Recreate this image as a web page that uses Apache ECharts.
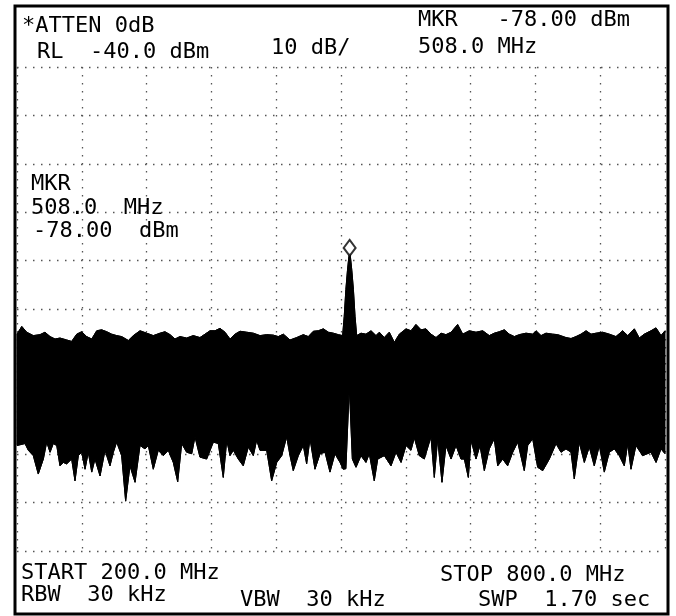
<!DOCTYPE html>
<html>
<head>
<meta charset="utf-8">
<script src="https://cdn.jsdelivr.net/npm/echarts@6/dist/echarts.min.js"></script>
<style>
html,body{margin:0;padding:0;background:#fff;}
#c{width:676px;height:616px;}
</style>
</head>
<body>
<div id="c"></div>
<script>
// Upper envelope of the trace (MHz, dBm)
const upperFreq = [200,204.4,209.0,215.1,221.3,225.9,230.6,235.2,239.8,246.0,250.6,255.3,259.9,264.5,269.2,273.8,278.4,283.1,287.7,292.3,296.9,303.1,307.7,313.9,320.1,326.2,332.4,337.0,341.7,346.3,350.9,357.1,363.2,369.4,374.1,378.7,383.3,388.0,392.6,397.2,401.9,406.5,412.7,418.8,425.0,431.2,437.3,441.9,446.6,452.8,459.0,465.1,469.7,474.4,479.0,483.6,488.3,492.9,497.5,
  501.5,503,504.5,506,507.3,508,508.7,510,511.5,513,514.5,
  518.5,523.1,527.8,532.4,535.5,540.1,544.7,549.4,554.0,560.2,564.8,569.4,574.1,578.7,583.3,588.0,592.6,597.2,601.9,608.0,612.7,618.8,625.0,631.2,637.3,641.9,646.6,651.2,655.8,660.5,665.1,671.3,677.5,680.6,685.2,689.8,696.0,700.6,708.3,713.0,717.6,722.2,726.9,731.5,736.1,742.3,748.4,754.6,760.8,765.5,771.6,776.2,780.8,787.0,791.7,796.3,800];
const upperDbm = [-95.2,-93.6,-94.8,-95.5,-95.3,-94.8,-95.7,-96.2,-96.0,-96.4,-96.7,-95.2,-94.7,-95.7,-96.2,-94.5,-94.3,-94.7,-95.2,-95.5,-95.7,-96.5,-95.5,-94.5,-95.0,-95.5,-95.0,-94.7,-95.3,-96.2,-95.7,-96.0,-95.5,-95.9,-95.2,-94.5,-94.5,-94.0,-94.8,-96.2,-95.2,-94.6,-94.8,-95.0,-95.5,-95.3,-95.4,-95.7,-95.2,-96.4,-95.9,-95.3,-95.7,-94.6,-94.5,-94.1,-94.8,-95.0,-95.3,
  -95.5,-91.5,-86,-82,-79.2,-78.5,-79.2,-82,-86,-91.5,-95.5,
  -95.0,-95.2,-94.5,-95.5,-94.8,-95.9,-94.8,-96.9,-95.2,-94.1,-94.5,-93.2,-94.3,-94.1,-95.2,-95.9,-95.0,-95.3,-94.8,-93.2,-95.2,-94.5,-94.8,-94.5,-95.5,-95.0,-94.7,-94.3,-95.2,-95.7,-95.3,-95.0,-95.2,-94.5,-95.5,-95.0,-95.2,-95.3,-95.9,-96.1,-95.7,-95.2,-94.5,-95.2,-95.0,-94.8,-95.2,-95.7,-94.5,-95.5,-94.1,-96.0,-95.2,-94.5,-93.9,-95.5,-94.5];

// Lower envelope of the trace (MHz, dBm)
const lowerFreq = [200,207.4,210.5,215.1,219.7,224.4,227.5,230.6,233.6,236.8,239.8,242.9,246.0,250.6,253.7,256.8,259.9,263.0,266.0,269.2,272.2,276.9,281.5,286.1,289.2,292.3,296.9,300.6,304.6,309.3,313.9,318.5,321.6,326.2,330.8,335.5,340.1,344.7,348.8,352.5,357.1,361.8,364.8,369.4,375.6,381.8,386.4,391.0,394.2,397.2,400.3,404.9,409.5,414.2,418.8,421.9,425.0,431.2,435.8,440.5,445.1,449.7,452.8,455.8,460.5,465.1,468.2,471.3,475.9,480.6,485.2,489.8,494.4,499.1,
  502.0,504.5,507.7,510.5,
  513.9,518.5,523.1,526.2,530.8,534.0,540.1,546.3,550.9,555.6,560.2,564.8,567.9,572.5,577.1,583.3,586.4,589.5,593.5,597.2,601.9,606.5,611.1,614.2,617.9,620.4,625.0,628.7,632.7,637.3,641.9,645.1,649.7,654.3,659.0,663.6,669.7,672.9,677.5,682.1,686.8,692.9,699.1,703.7,708.3,713.0,716.0,720.6,725.3,729.9,734.5,739.2,743.8,748.4,753.1,757.7,762.3,765.5,768.5,773.1,779.3,787.0,791.7,796.3,800];
const lowerDbm = [-118.2,-117.8,-119.2,-120.3,-124.1,-121.0,-117.5,-119.6,-117.8,-118.2,-122.4,-121.7,-122.0,-121.0,-125.5,-120.3,-119.6,-123.1,-119.6,-123.7,-121.0,-124.5,-119.2,-122.4,-119.6,-117.5,-120.3,-129.7,-122.4,-125.8,-118.2,-118.9,-118.2,-123.1,-119.2,-120.3,-119.2,-121.7,-125.7,-117.8,-119.6,-119.9,-116.4,-120.6,-121.0,-117.5,-117.8,-124.8,-117.1,-120.3,-119.2,-121.0,-122.4,-118.5,-120.3,-117.1,-119.2,-119.2,-125.5,-121.7,-120.3,-116.4,-120.3,-123.4,-120.3,-118.2,-122.0,-116.8,-123.1,-119.9,-119.6,-123.7,-119.9,-121.7,
  -123.1,-123.0,-106.0,-121.0,
  -122.7,-120.3,-121.7,-119.9,-125.5,-121.0,-120.3,-122.4,-119.6,-121.7,-118.2,-119.2,-116.6,-120.3,-121.0,-116.4,-124.8,-116.8,-125.8,-118.2,-121.0,-118.2,-121.0,-121.0,-124.8,-117.1,-121.0,-118.2,-123.4,-118.9,-116.8,-122.4,-121.0,-122.4,-119.6,-117.5,-123.4,-118.2,-116.8,-122.7,-123.4,-121.0,-117.8,-119.6,-118.9,-119.6,-125.1,-117.5,-121.7,-118.5,-122.4,-118.2,-123.7,-119.6,-118.9,-120.3,-122.4,-117.8,-123.1,-118.2,-120.3,-119.6,-121.7,-118.9,-119.9];

// Marker
const markerFreq = [508.0];
const markerDbm = [-78.0];

// Axis settings (instrument: RL -40 dBm, 10 dB/div, 200-800 MHz)
const freqRange = [200, 800];
const freqStep = 60;
const dbmRange = [-140, -40];
const dbmStep = 10;

// Screen annotations
const annotations = [
  {text: '*ATTEN 0dB', x: 22, y: 26},
  {text: 'RL  -40.0 dBm', x: 37, y: 52},
  {text: '10 dB/', x: 271, y: 48},
  {text: 'MKR   -78.00 dBm', x: 418, y: 20},
  {text: '508.0 MHz', x: 418, y: 47},
  {text: 'MKR', x: 31, y: 184},
  {text: '508.0  MHz', x: 31, y: 208},
  {text: '-78.00  dBm', x: 33, y: 231},
  {text: 'START 200.0 MHz', x: 21, y: 573},
  {text: 'RBW  30 kHz', x: 21, y: 595},
  {text: 'VBW  30 kHz', x: 240, y: 600},
  {text: 'STOP 800.0 MHz', x: 440, y: 575},
  {text: 'SWP  1.70 sec', x: 478, y: 600}
];

const chart = echarts.init(document.getElementById('c'), null, {renderer: 'canvas'});

const upperData = upperFreq.map((f, i) => [f, upperDbm[i]]);
const lowerData = lowerFreq.map((f, i) => [f, lowerDbm[i]]);

const dotted = {color: '#555', width: 1.3, type: [1.5, 6.5]};

const option = {
  animation: false,
  backgroundColor: '#fff',
  grid: {left: 17, right: 11, top: 67, bottom: 65, containLabel: false},
  xAxis: {
    type: 'value', min: freqRange[0], max: freqRange[1], interval: freqStep,
    axisLabel: {show: false}, axisTick: {show: false}, axisLine: {show: false},
    splitLine: {show: true, showMinLine: true, showMaxLine: true, lineStyle: dotted}
  },
  yAxis: {
    type: 'value', min: dbmRange[0], max: dbmRange[1], interval: dbmStep,
    axisLabel: {show: false}, axisTick: {show: false}, axisLine: {show: false},
    splitLine: {show: true, showMinLine: true, showMaxLine: true, lineStyle: dotted}
  },
  series: [
    {
      type: 'custom',
      name: 'band',
      coordinateSystem: 'cartesian2d',
      data: [[freqRange[0], dbmRange[0]]],
      silent: true,
      z: 2,
      renderItem: function (params, api) {
        const pts = [];
        for (let i = 0; i < upperData.length; i++) pts.push(api.coord(upperData[i]));
        for (let i = lowerData.length - 1; i >= 0; i--) pts.push(api.coord(lowerData[i]));
        return {type: 'polygon', shape: {points: pts}, style: {fill: '#000', stroke: '#000', lineWidth: 1}};
      }
    },
    {
      type: 'line', name: 'upper', data: upperData, showSymbol: false, symbol: 'none',
      lineStyle: {color: '#000', width: 1}, z: 3
    },
    {
      type: 'line', name: 'lower', data: lowerData, showSymbol: false, symbol: 'none',
      lineStyle: {color: '#000', width: 1}, z: 3
    },
    {
      type: 'scatter', name: 'marker',
      data: markerFreq.map((f, i) => [f, markerDbm[i]]),
      symbol: 'diamond', symbolSize: [12, 16], symbolOffset: [0, -3],
      itemStyle: {color: '#fff', borderColor: '#000', borderWidth: 2}, z: 5
    }
  ],
  graphic: {
    elements: [
      {type: 'rect', shape: {x: 15, y: 6, width: 653, height: 608}, style: {fill: 'none', stroke: '#000', lineWidth: 3}, z: 100}
    ].concat(annotations.map(a => ({
      type: 'text', x: a.x, y: a.y, z: 100,
      style: {text: a.text, fill: '#000', font: '22px "DejaVu Sans Mono"', textVerticalAlign: 'middle', textAlign: 'left'}
    })))
  }
};
chart.setOption(option);
</script>
</body>
</html>
